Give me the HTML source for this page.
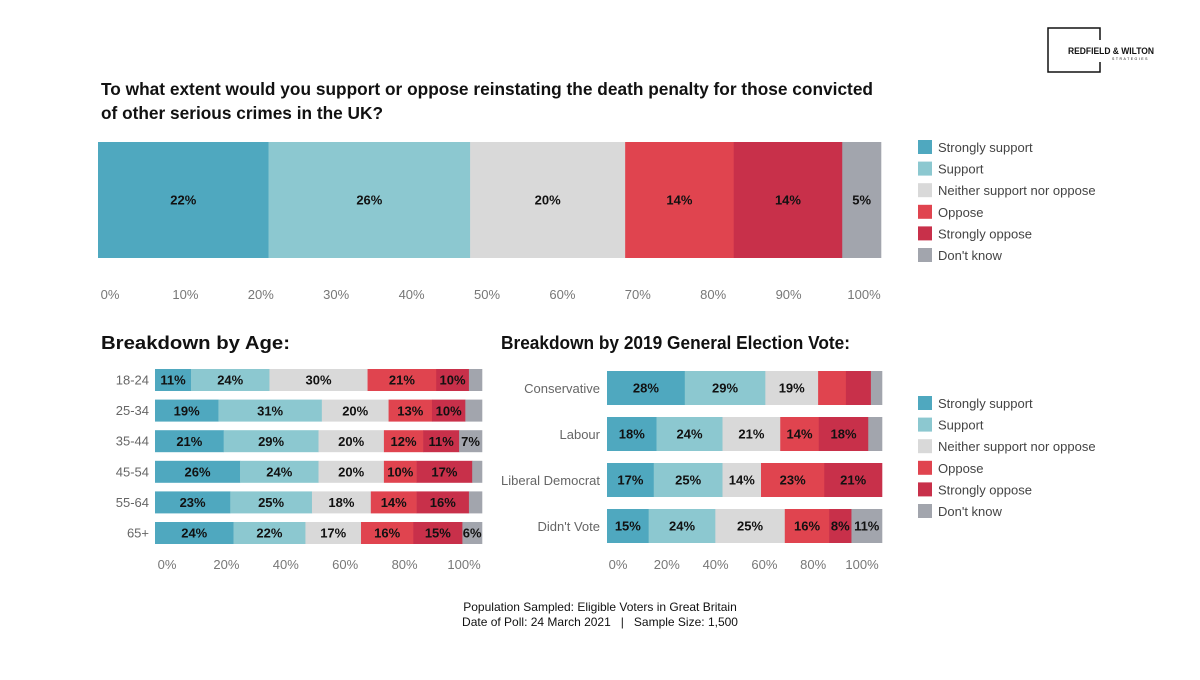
<!DOCTYPE html>
<html><head><meta charset="utf-8"><style>
body{margin:0;background:#fff;font-family:"Liberation Sans",Arial,sans-serif}
svg text{font-family:"Liberation Sans",Arial,sans-serif;white-space:pre}
</style></head><body>
<svg id="c" width="1200" height="675" viewBox="0 0 1200 675">
<g>
<rect x="1048" y="28" width="52" height="44" fill="none" stroke="#111" stroke-width="1.5"/>
<rect x="1066" y="40" width="94" height="22" fill="#fff"/>
<text x="1068" y="54" font-size="9" font-weight="bold" fill="#111" textLength="86" lengthAdjust="spacingAndGlyphs">REDFIELD &amp; WILTON</text>
<text x="1112" y="60" font-size="3.5" fill="#111" letter-spacing="1.5">STRATEGIES</text>
</g>
<text x="101" y="95" font-size="17.5" font-weight="bold" fill="#111" textLength="772" lengthAdjust="spacingAndGlyphs">To what extent would you support or oppose reinstating the death penalty for those convicted</text>
<text x="101" y="119" font-size="17.5" font-weight="bold" fill="#111" textLength="282" lengthAdjust="spacingAndGlyphs">of other serious crimes in the UK?</text>
<text x="101" y="349" font-size="18" font-weight="bold" fill="#111" textLength="189" lengthAdjust="spacingAndGlyphs">Breakdown by Age:</text>
<text x="501" y="349" font-size="18" font-weight="bold" fill="#111" textLength="349" lengthAdjust="spacingAndGlyphs">Breakdown by 2019 General Election Vote:</text>
<text x="600" y="611" font-size="12" fill="#111" text-anchor="middle">Population Sampled: Eligible Voters in Great Britain</text>
<text x="600" y="626" font-size="12" fill="#111" text-anchor="middle">Date of Poll: 24 March 2021   |   Sample Size: 1,500</text>
</svg>
<script>
const seriesNames=["Strongly support","Support","Neither support nor oppose","Oppose","Strongly oppose","Don't know"];
const colors=["#4fa8bf","#8cc8d0","#d9d9d9","#e0444f","#c8304a","#a2a5ad"];
const overall=[22,26,20,14,14,5];
const ageCats=["18-24","25-34","35-44","45-54","55-64","65+"];
const ageVals=[[11,24,30,21,10,4],[19,31,20,13,10,5],[21,29,20,12,11,7],[26,24,20,10,17,3],[23,25,18,14,16,4],[24,22,17,16,15,6]];
const ageLabels=[[1,1,1,1,1,0],[1,1,1,1,1,0],[1,1,1,1,1,1],[1,1,1,1,1,0],[1,1,1,1,1,0],[1,1,1,1,1,1]];
const voteCats=["Conservative","Labour","Liberal Democrat","Didn't Vote"];
const voteVals=[[28,29,19,10,9,4],[18,24,21,14,18,5],[17,25,14,23,21,0],[15,24,25,16,8,11]];
const voteLabels=[[1,1,1,0,0,0],[1,1,1,1,1,0],[1,1,1,1,1,0],[1,1,1,1,1,1]];
const topTicks=[0,10,20,30,40,50,60,70,80,90,100];
const smallTicks=[0,20,40,60,80,100];
const svg=document.getElementById('c');const NS="http://www.w3.org/2000/svg";
function mk(t,a,p){const e=document.createElementNS(NS,t);for(const k in a)e.setAttribute(k,a[k]);(p||svg).appendChild(e);return e;}
function txt(x,y,s,a,p){const e=mk('text',Object.assign({x:x,y:y},a),p);e.textContent=s;return e;}
function drawBar(vals,labs,x0,x1,yc,h,fs,name){
 const tot=vals.reduce((a,b)=>a+b,0);let c=0;
 vals.forEach((v,i)=>{if(v<=0)return;const xa=x0+(x1-x0)*c/tot,xb=x0+(x1-x0)*(c+v)/tot;c+=v;
  const r=mk('rect',{x:xa,y:yc-h/2,width:xb-xa+0.3,height:h,fill:colors[i]});
  
  
  if(labs[i]){const t=txt((xa+xb)/2,yc+fs*0.36,v+'%',{'font-size':fs,'font-weight':'bold',fill:'#111','text-anchor':'middle'});
  
  }
 });
}
drawBar(overall,[1,1,1,1,1,1],98,881,200,116,13,'overall');
const tx=v=>110+(864-110)*v/100;
topTicks.forEach(v=>{const t=txt(tx(v),299,v+'%',{'font-size':13,fill:'#777','text-anchor':'middle'});
 
 });
const ay=i=>380+i*30.6;
ageCats.forEach((c,i)=>{drawBar(ageVals[i],ageLabels[i],155,482,ay(i),22,13,'age-'+c);
 const t=txt(149,ay(i)+4.5,c,{'font-size':13,fill:'#666','text-anchor':'end'});
 
 });
const ax=v=>167+(464-167)*v/100;
smallTicks.forEach(v=>{const t=txt(ax(v),569,v+'%',{'font-size':13,fill:'#777','text-anchor':'middle'});
 
 });
const vy=i=>388+i*46;
voteCats.forEach((c,i)=>{drawBar(voteVals[i],voteLabels[i],607,882,vy(i),34,13,'vote-'+i);
 const t=txt(600,vy(i)+5,c,{'font-size':13,fill:'#666','text-anchor':'end'});
 
 });
const vx=v=>618+(862-618)*v/100;
smallTicks.forEach(v=>{const t=txt(vx(v),569,v+'%',{'font-size':13,fill:'#777','text-anchor':'middle'});
 
 });
function legend(y0,nm){seriesNames.forEach((s,i)=>{const y=y0+i*21.6;
 const r=mk('rect',{x:918,y:y-7,width:14,height:14,fill:colors[i]});
 
 
 const t=txt(938,y+5,s,{'font-size':13,fill:'#444'});
 
 });}
legend(147,'legend-top');legend(403,'legend-bottom');
</script>
</body></html>
